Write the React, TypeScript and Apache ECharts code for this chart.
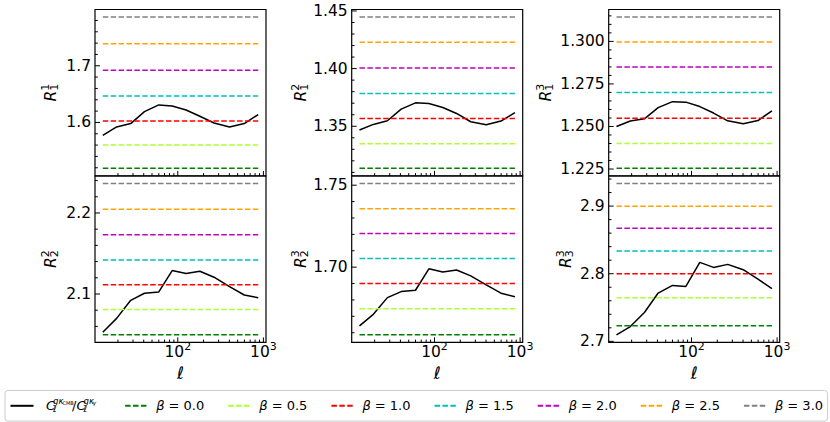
import React, { useEffect, useRef } from 'react';
import * as echarts from 'echarts';

// ---------- data ----------
const ELL = [13.3, 19.3, 28.2, 40.8, 60, 86, 125, 181, 265, 402, 598, 870];

const BETAS = ['0.0', '0.5', '1.0', '1.5', '2.0', '2.5', '3.0'];
const BETA_COLORS = ['#008000', '#adff2f', '#ff0000', '#00bfbf', '#bf00bf', '#ffa500', '#808080'];

const R11_RATIO = [1.577, 1.592, 1.598, 1.619, 1.631, 1.629, 1.622, 1.611, 1.599, 1.592, 1.598, 1.614];
const R11_BETA = [1.519, 1.560, 1.6025, 1.6466, 1.692, 1.739, 1.786];
const R12_RATIO = [1.3467, 1.3516, 1.3548, 1.3649, 1.3703, 1.3697, 1.3663, 1.3611, 1.3539, 1.3513, 1.3545, 1.3619];
const R12_BETA = [1.3135, 1.3349, 1.3567, 1.3784, 1.4006, 1.4228, 1.4447];
const R13_RATIO = [1.2500, 1.2532, 1.2545, 1.2611, 1.2646, 1.2643, 1.2617, 1.2579, 1.2533, 1.2516, 1.2535, 1.2592];
const R13_BETA = [1.2254, 1.2400, 1.2549, 1.2699, 1.2850, 1.2996, 1.3143];
const R22_RATIO = [2.0529, 2.0699, 2.0922, 2.1009, 2.1025, 2.1289, 2.1252, 2.1281, 2.1207, 2.1090, 2.0988, 2.0954];
const R22_BETA = [2.0496, 2.0810, 2.1115, 2.1421, 2.1731, 2.2045, 2.2363];
const R23_RATIO = [1.6642, 1.6712, 1.6814, 1.6851, 1.6859, 1.6990, 1.6971, 1.6983, 1.6947, 1.6892, 1.6841, 1.6820];
const R23_BETA = [1.6587, 1.6746, 1.6900, 1.7053, 1.7206, 1.7357, 1.7510];
const R33_RATIO = [2.7096, 2.7219, 2.7427, 2.7714, 2.7827, 2.7812, 2.8167, 2.8093, 2.8138, 2.8059, 2.7921, 2.7778];
const R33_BETA = [2.7230, 2.7644, 2.8000, 2.8336, 2.8671, 2.8997, 2.9333];

const PANEL_SUB = ['1', '1', '1', '2', '2', '3'];
const PANEL_SUP = ['1', '2', '3', '2', '3', '3'];
const RATIOS = [R11_RATIO, R12_RATIO, R13_RATIO, R22_RATIO, R23_RATIO, R33_RATIO];
const BETA_LEVELS = [R11_BETA, R12_BETA, R13_BETA, R22_BETA, R23_BETA, R33_BETA];

const MAJOR_STEP = [0.1, 0.05, 0.025, 0.1, 0.05, 0.1];
const MINOR_STEP = [0.02, 0.01, 0.005, 0.02, 0.01, 0.02];
const DECIMALS = [1, 2, 3, 1, 2, 1];
const X_MAJOR = [100, 1000];
const X_MINOR = [20, 30, 40, 50, 60, 70, 80, 90, 200, 300, 400, 500, 600, 700, 800, 900];

const RATIO_NAME = 'C_ℓ^{gκ_CMB}/C_ℓ^{gκ_γ}';
const BETA_NAMES = BETAS.map((b) => `β = ${b}`);

// ---------- layout ----------
const COL_LEFT = [95, 351.7, 608.7];
const COL_W = 171;
const ROW_TOP = [9.5, 176];
const ROW_H = 166.4;
const NAME_GAP = [35, 42, 54, 35, 42, 34];
const FONT = "'DejaVu Sans', sans-serif";

// matplotlib-like 5% margins
const lx0 = Math.log10(ELL[0]);
const lx1 = Math.log10(ELL[ELL.length - 1]);
const X_LO = Math.pow(10, lx0 - 0.05 * (lx1 - lx0));
const X_HI = Math.pow(10, lx1 + 0.05 * (lx1 - lx0));
const Y_LO: number[] = [];
const Y_HI: number[] = [];
RATIOS.forEach((r, i) => {
  const all = r.concat(BETA_LEVELS[i]);
  const lo = Math.min(...all);
  const hi = Math.max(...all);
  Y_LO.push(lo - 0.05 * (hi - lo));
  Y_HI.push(hi + 0.05 * (hi - lo));
});

const isMult = (v: number, step: number) => Math.abs(v / step - Math.round(v / step)) < 1e-6;

function tickData(i: number) {
  const out: number[][] = [];
  const yLo = Y_LO[i];
  X_MAJOR.forEach((x) => { if (x > X_LO && x < X_HI) out.push([x, yLo, 0]); });
  X_MINOR.forEach((x) => { if (x > X_LO && x < X_HI) out.push([x, yLo, 1]); });
  const mn = MINOR_STEP[i];
  const mj = MAJOR_STEP[i];
  for (let k = Math.ceil(Y_LO[i] / mn - 1e-9); k * mn <= Y_HI[i] + 1e-9; k++) {
    const v = k * mn;
    out.push([X_LO, v, isMult(v, mj) ? 2 : 3]);
  }
  return out;
}

function buildOption() {
  const idx = [0, 1, 2, 3, 4, 5];
  const tok = (o: any) => ({ fontFamily: FONT, align: 'left', color: '#000', ...o });

  const series: any[] = [];
  idx.forEach((i) => {
    series.push({
      type: 'line', name: RATIO_NAME, xAxisIndex: i, yAxisIndex: i,
      data: ELL.map((l, k) => [l, RATIOS[i][k]]),
      symbol: 'none', color: '#000', lineStyle: { color: '#000', width: 1.5 },
    });
    BETA_LEVELS[i].forEach((v, j) => {
      series.push({
        type: 'line', name: BETA_NAMES[j], xAxisIndex: i, yAxisIndex: i,
        data: [[ELL[0], v], [ELL[ELL.length - 1], v]],
        symbol: 'none', color: BETA_COLORS[j],
        lineStyle: { color: BETA_COLORS[j], width: 1.5, type: [5.5, 2.4] },
      });
    });
    series.push({
      type: 'custom', xAxisIndex: i, yAxisIndex: i, silent: true, z: 10, clip: false,
      data: tickData(i),
      renderItem: (params: any, api: any) => {
        const cs = params.coordSys;
        const kind = api.value(2);
        const p = api.coord([api.value(0), api.value(1)]);
        const bottom = cs.y + cs.height;
        const len = kind === 0 || kind === 2 ? 5 : 2.8;
        if (kind < 2) {
          return { type: 'line', shape: { x1: p[0], y1: bottom, x2: p[0], y2: bottom - len }, style: { stroke: '#000', lineWidth: 1 } };
        }
        return { type: 'line', shape: { x1: cs.x, y1: p[1], x2: cs.x + len, y2: p[1] }, style: { stroke: '#000', lineWidth: 1 } };
      },
    });
  });

  return {
    animation: false,
    backgroundColor: '#fff',
    textStyle: { fontFamily: FONT },
    grid: idx.map((i) => ({
      left: COL_LEFT[i % 3], top: ROW_TOP[Math.floor(i / 3)], width: COL_W, height: ROW_H,
      show: true, borderColor: '#000', borderWidth: 1.2, backgroundColor: 'transparent', containLabel: false,
    })),
    xAxis: idx.map((i) => ({
      type: 'log', logBase: 10, gridIndex: i, min: X_LO, max: X_HI,
      axisLine: { show: false }, axisTick: { show: false }, splitLine: { show: false },
      minorTick: { show: false }, minorSplitLine: { show: false },
      axisLabel: {
        show: i >= 3, margin: 2.5, color: '#000',
        formatter: (v: number) => {
          const e = Math.log10(v);
          if (Math.abs(e - Math.round(e)) < 1e-6) return `{b|10}{e|${Math.round(e)}}`;
          return '';
        },
        rich: {
          b: tok({ fontSize: 15.5, lineHeight: 15 }),
          e: tok({ fontSize: 11, lineHeight: 15, padding: [0, 0, 11, 0] }),
        },
      },
      name: i >= 3 ? 'ℓ' : '', nameLocation: 'middle', nameGap: 20,
      nameTextStyle: { fontSize: 17, fontStyle: 'italic', color: '#000', fontFamily: FONT },
    })),
    yAxis: idx.map((i) => ({
      type: 'value', gridIndex: i, min: Y_LO[i], max: Y_HI[i],
      minInterval: MAJOR_STEP[i], maxInterval: MAJOR_STEP[i],
      axisLine: { show: false }, axisTick: { show: false }, splitLine: { show: false },
      axisLabel: {
        margin: 4, fontSize: 15.5, color: '#000', fontFamily: FONT,
        formatter: (v: number) => (isMult(v, MAJOR_STEP[i]) ? v.toFixed(DECIMALS[i]) : ''),
      },
      name: `{R|R}{sb|${PANEL_SUB[i]}}{sp|${PANEL_SUP[i]}}`,
      nameLocation: 'middle', nameRotate: 90, nameGap: NAME_GAP[i], nameMoveOverlap: false,
      nameTextStyle: {
        color: '#000',
        rich: {
          R: tok({ fontSize: 15.5, fontStyle: 'italic', lineHeight: 18 }),
          sb: tok({ fontSize: 11, width: 0.01, lineHeight: 18, padding: [7, 0, 0, 0] }),
          sp: tok({ fontSize: 11, lineHeight: 18, padding: [0, 0, 11, 0] }),
        },
      },
    })),
    legend: {
      data: [RATIO_NAME, ...BETA_NAMES],
      left: 5, top: 390.5, orient: 'horizontal', width: 830,
      padding: [5.8, 4.5],
      itemWidth: 23, itemHeight: 14, itemGap: 23,
      itemStyle: { color: 'transparent', borderColor: 'transparent', borderWidth: 0, opacity: 0 },
      borderColor: '#cccccc', borderWidth: 1, borderRadius: 3, backgroundColor: '#fff',
      formatter: (name: string) => {
        if (name === RATIO_NAME) {
          return '{s0| }{C|C}{l|ℓ}{g|gκ}{m|CMB}{sl|/}{C|C}{l|ℓ}{g2|gκ}{y|γ}{tl| }';
        }
        return `{sb| }{bt|β}{t|${name.slice(1)}}`;
      },
      textStyle: {
        fontSize: 13, color: '#000', fontFamily: FONT,
        rich: {
          s0: tok({ fontSize: 13, width: 7.5, lineHeight: 14 }),
          C: tok({ fontSize: 13, fontStyle: 'italic', width: 7, lineHeight: 14 }),
          l: tok({ fontSize: 8.5, fontStyle: 'italic', width: 0.01, lineHeight: 14, padding: [6, 0, 0, 0] }),
          g: tok({ fontSize: 8.5, fontStyle: 'italic', width: 9.5, lineHeight: 14, padding: [0, 0, 10, 0] }),
          m: tok({ fontSize: 5, width: 9.5, lineHeight: 14, padding: [0, 0, 6, 0] }),
          sl: tok({ fontSize: 13, width: 4.5, lineHeight: 14 }),
          g2: tok({ fontSize: 8.5, fontStyle: 'italic', width: 9, lineHeight: 14, padding: [0, 0, 10, 0] }),
          y: tok({ fontSize: 6, fontStyle: 'italic', width: 4.5, lineHeight: 14, padding: [0, 0, 6, 0] }),
          tl: tok({ fontSize: 13, width: 3, lineHeight: 14 }),
          sb: tok({ fontSize: 13, width: 3, lineHeight: 14 }),
          bt: tok({ fontSize: 13, fontStyle: 'italic', lineHeight: 14 }),
          t: tok({ fontSize: 13, lineHeight: 14 }),
        },
      },
    },
    series,
  };
}

export default function App() {
  const ref = useRef<HTMLDivElement>(null);
  useEffect(() => {
    const chart = echarts.init(ref.current as HTMLDivElement, null, { renderer: 'svg' });
    chart.setOption(buildOption() as any);
    return () => chart.dispose();
  }, []);
  return (
    <div
      ref={ref}
      style={{ position: 'absolute', left: 0, top: 0, width: 830, height: 422, background: '#fff' }}
    />
  );
}
